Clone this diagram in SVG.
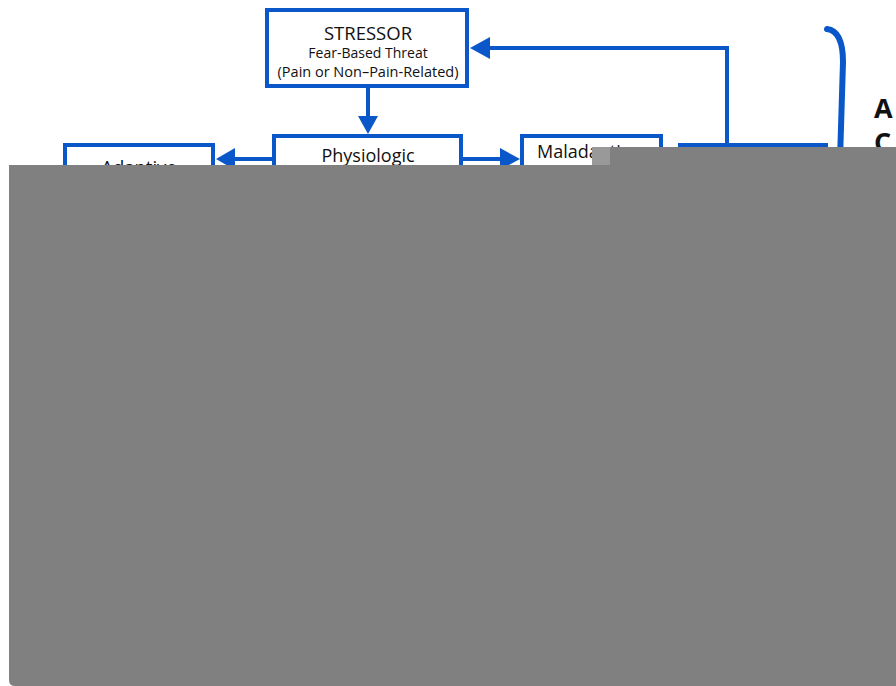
<svg xmlns="http://www.w3.org/2000/svg" width="896" height="686" viewBox="0 0 896 686">
<style>
.box{fill:#fff;stroke:#0a57c9;stroke-width:4}
.ln{fill:none;stroke:#0a57c9;stroke-width:4}
.hd{fill:#0a57c9}
.t{font-family:"Open Sans","Noto Sans",sans-serif;fill:#111;text-anchor:middle}
.big{font-size:18.5px}
.sm{font-size:14px}
.side{font-family:"Open Sans","Noto Sans",sans-serif;font-size:27px;font-weight:700;fill:#111}
.mask{fill:#808080}
</style>
<rect width="896" height="686" fill="#fff"/>
<g id="connectors">
<line class="ln" x1="368" y1="88" x2="368" y2="118"/>
<polygon class="hd" points="358,116 378,116 368,134"/>
<line class="ln" x1="463" y1="159" x2="502" y2="159"/>
<polygon class="hd" points="500,148 500,170 520,159"/>
<line class="ln" x1="272" y1="159" x2="233" y2="159"/>
<polygon class="hd" points="235,148 235,170 216,159"/>
<polyline class="ln" points="727,145 727,48 488,48"/>
<polygon class="hd" points="490,37 490,59 470,48"/>
</g>
<g id="stressor">
<rect class="box" x="267" y="10" width="200" height="76"/>
<text class="t big" x="368" y="40">STRESSOR</text>
<text class="t sm" x="368" y="58">Fear-Based Threat</text>
<text class="t sm" x="368" y="77" style="font-size:14.5px">(Pain or Non–Pain-Related)</text>
</g>
<g id="physiologic">
<rect class="box" x="274" y="136" width="187" height="60"/>
<text class="t big" x="368" y="162" style="font-size:18px">Physiologic</text>
</g>
<g id="adaptive">
<rect class="box" x="65" y="145" width="148" height="60"/>
<text class="t big" x="139" y="174">Adaptive</text>
</g>
<g id="maladaptive">
<rect class="box" x="522" y="136" width="139" height="60"/>
<text class="t big" x="537" y="158" style="text-anchor:start;font-size:18px">Maladaptive</text>
</g>
<g id="right-node">
<rect class="box" x="680" y="145" width="146" height="60"/>
</g>
<g id="bracket">
<path class="ln" d="M827,29 Q843,31 843,62 L840,160" style="stroke-width:6;stroke-linecap:round"/>
<text class="side" x="874" y="118">A</text>
<text class="side" x="874" y="152">C</text>
</g>
<g id="overlay">
<path class="mask" d="M9,165 H592 V147 H896 V686 H15 Q9,686 9,680 Z"/>
<rect x="592" y="147" width="18" height="18" fill="#999"/>
</g>
</svg>
